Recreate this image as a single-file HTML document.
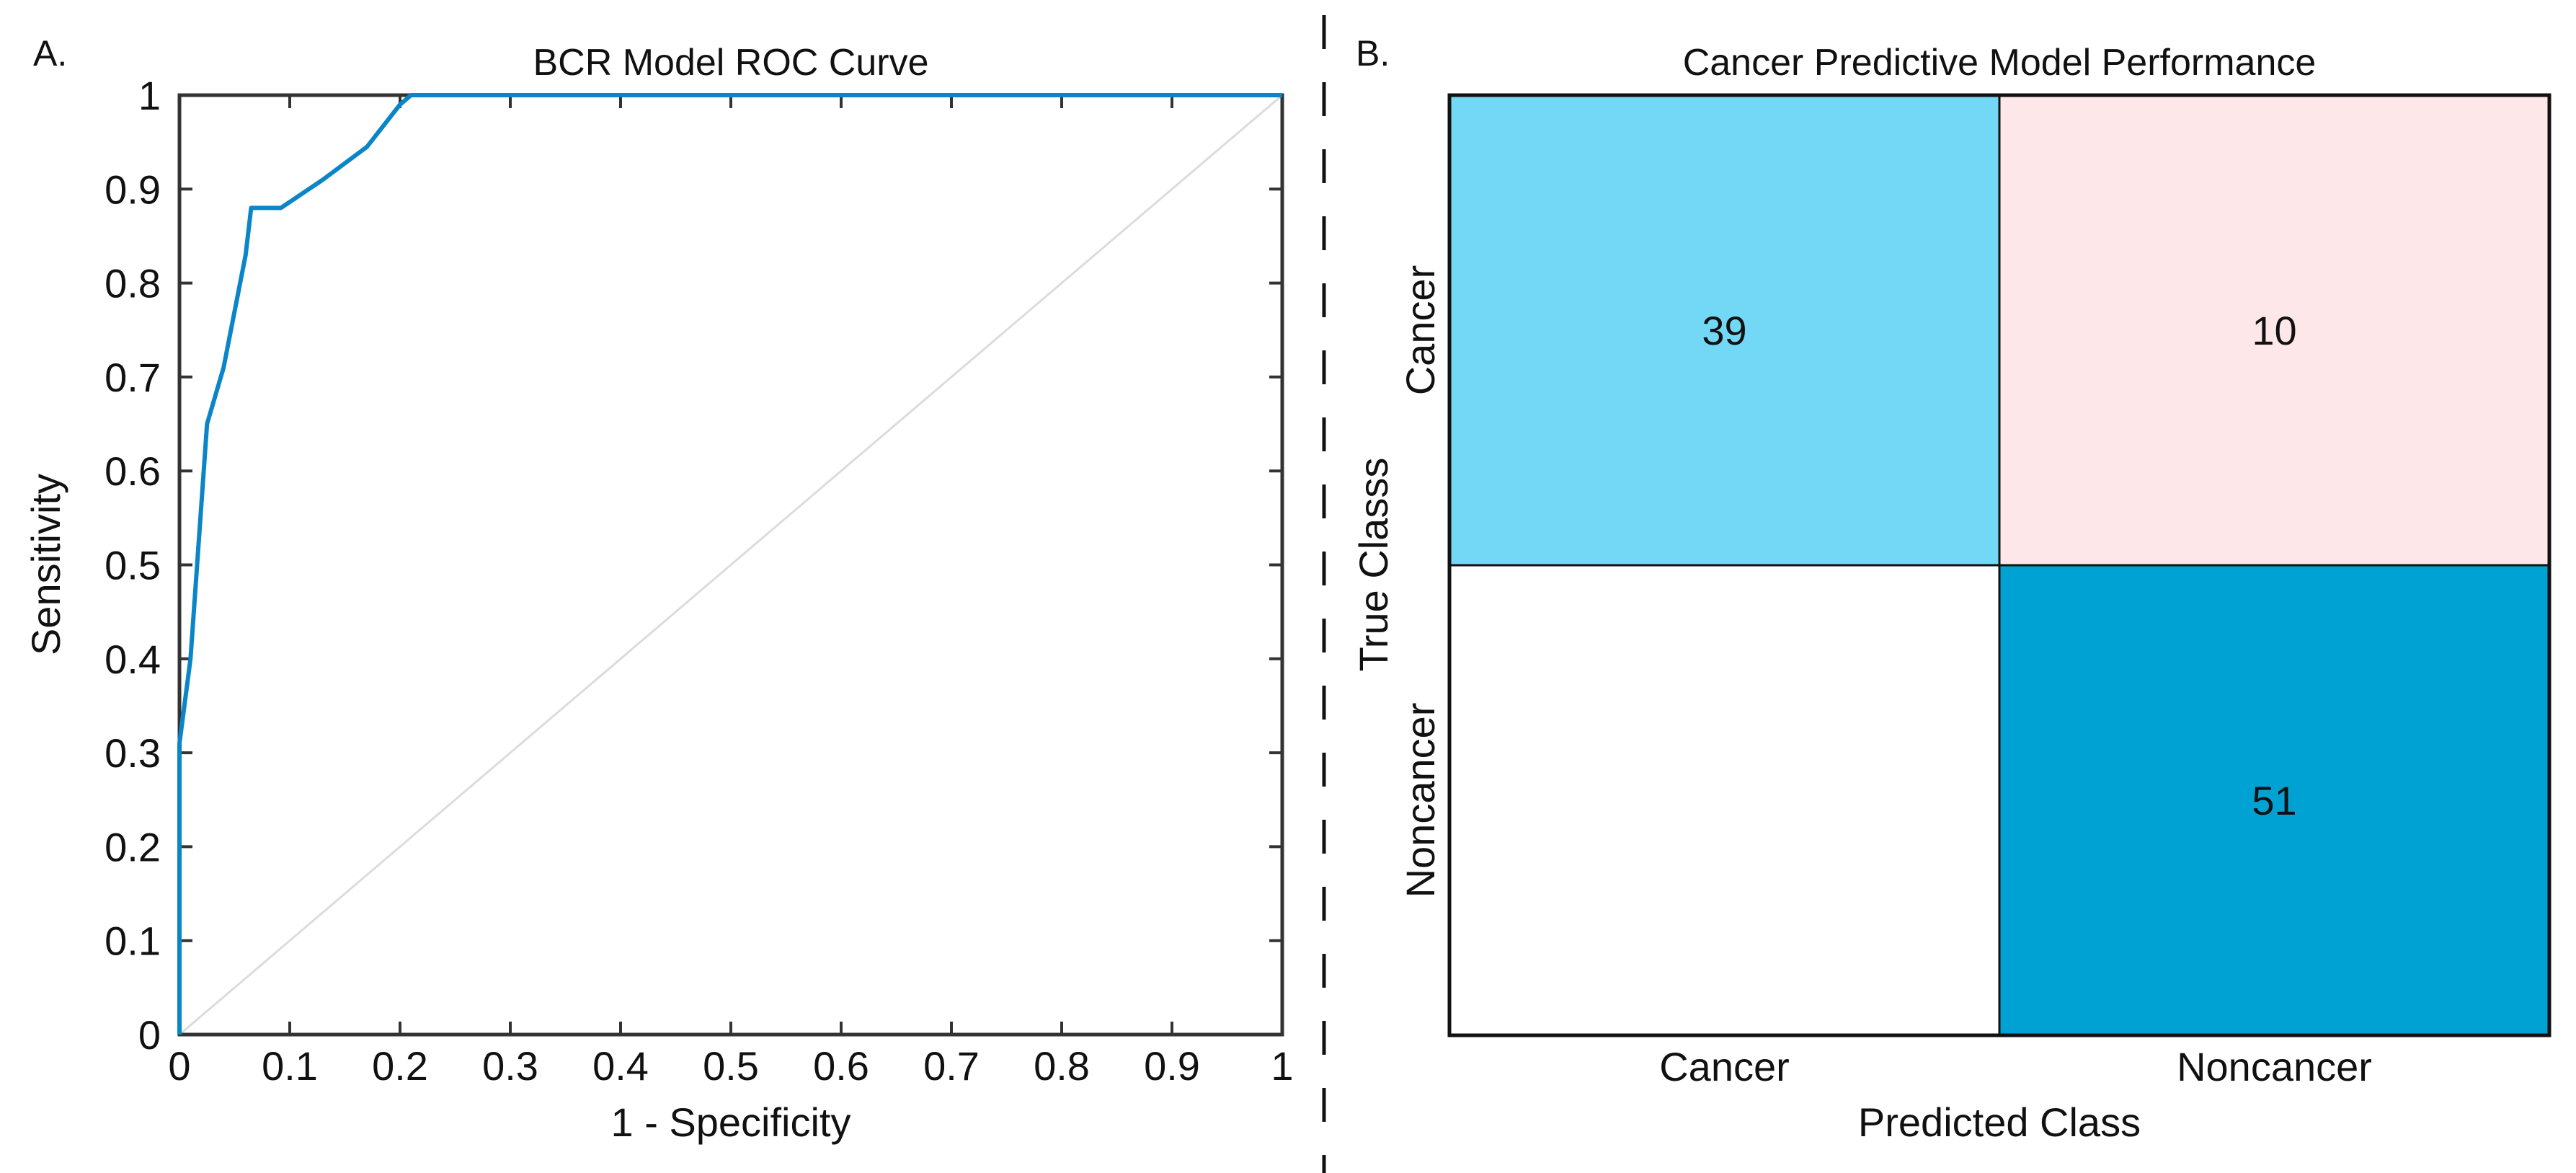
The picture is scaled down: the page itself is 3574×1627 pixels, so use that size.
<!DOCTYPE html>
<html><head><meta charset="utf-8"><style>
html,body{margin:0;padding:0;background:#fff;}
svg{display:block;font-family:"Liberation Sans",sans-serif;}
</style></head><body>
<svg id="fig" width="3574" height="1627" viewBox="0 0 3574 1627" xmlns="http://www.w3.org/2000/svg">
<rect width="3574" height="1627" fill="#fff"/>
<line x1="1837" y1="21" x2="1837" y2="1627" stroke="#111" stroke-width="5" stroke-dasharray="47 46"/>
<g id="roc"></g>
<g id="cm"></g>
</svg>
<script>
const fprValues = [0, 0, 0.01, 0.025, 0.04, 0.06, 0.065, 0.092, 0.13, 0.17, 0.2, 0.21, 1];
const tprValues = [0, 0.31, 0.40, 0.65, 0.71, 0.83, 0.88, 0.88, 0.91, 0.945, 0.99, 1, 1];
const xTickLabels = ["0","0.1","0.2","0.3","0.4","0.5","0.6","0.7","0.8","0.9","1"];
const yTickLabels = ["0","0.1","0.2","0.3","0.4","0.5","0.6","0.7","0.8","0.9","1"];
const cmPredicted = ["Cancer","Noncancer"];
const cmTrue = ["Cancer","Noncancer"];
const cmCounts = [[39,10],[0,51]];
const cmColors = [["#72d8f6","#fde7e9"],["#ffffff","#00a2d3"]];

const NS="http://www.w3.org/2000/svg";
function mk(parent,tag,attrs,text){const e=document.createElementNS(NS,tag);for(const k in attrs)e.setAttribute(k,attrs[k]);if(text!==undefined)e.textContent=text;parent.appendChild(e);return e;}

// ROC
const roc=document.getElementById('roc');
const L=249,R=1779,T=132,B=1435;
const xs=v=>L+v*(R-L), ys=v=>B-v*(B-T);
let t;
t=mk(roc,'text',{x:46,y:91,'font-size':50,fill:'#111'},'A.');

t=mk(roc,'text',{x:(L+R)/2,y:104,'font-size':52,'text-anchor':'middle',fill:'#111'},'BCR Model ROC Curve');

let d=mk(roc,'line',{x1:xs(0),y1:ys(0),x2:xs(1),y2:ys(1),stroke:'#dcdcdc','stroke-width':3});

xTickLabels.forEach((lb,i)=>{const v=parseFloat(lb);const x=xs(v);
 mk(roc,'line',{x1:x,y1:B,x2:x,y2:B-18,stroke:'#333','stroke-width':4});
 mk(roc,'line',{x1:x,y1:T,x2:x,y2:T+18,stroke:'#333','stroke-width':4});
 const e=mk(roc,'text',{x:x,y:1498,'font-size':56,'text-anchor':'middle',fill:'#111'},lb);
 });
yTickLabels.forEach((lb,i)=>{const v=parseFloat(lb);const y=ys(v);
 mk(roc,'line',{x1:L,y1:y,x2:L+18,y2:y,stroke:'#333','stroke-width':4});
 mk(roc,'line',{x1:R,y1:y,x2:R-18,y2:y,stroke:'#333','stroke-width':4});
 const e=mk(roc,'text',{x:223,y:y+20,'font-size':56,'text-anchor':'end',fill:'#111'},lb);
 });
let fr=mk(roc,'rect',{x:L,y:T,width:R-L,height:B-T,fill:'none',stroke:'#333','stroke-width':5});

let p=mk(roc,'polyline',{points:fprValues.map((v,i)=>xs(v)+','+ys(tprValues[i])).join(' '),fill:'none',stroke:'#0a86c8','stroke-width':6,'stroke-linejoin':'round'});

t=mk(roc,'text',{x:(L+R)/2,y:1576,'font-size':56,'text-anchor':'middle',fill:'#111'},'1 - Specificity');

t=mk(roc,'text',{x:0,y:0,'font-size':56,'text-anchor':'middle',fill:'#111',transform:'translate(83,783) rotate(-90)'},'Sensitivity');


// Confusion matrix
const cm=document.getElementById('cm');
const CL=2011,CR=3537,CT=132,CB=1436;
const cw=(CR-CL)/cmPredicted.length, ch=(CB-CT)/cmTrue.length;
t=mk(cm,'text',{x:1881,y:91,'font-size':50,fill:'#111'},'B.');

t=mk(cm,'text',{x:(CL+CR)/2,y:104,'font-size':52,'text-anchor':'middle',fill:'#111'},'Cancer Predictive Model Performance');

cmCounts.forEach((row,r)=>row.forEach((c,k)=>{
 const cell=mk(cm,'rect',{x:CL+k*cw,y:CT+r*ch,width:cw,height:ch,fill:cmColors[r][k],stroke:'#111','stroke-width':3});
 
 if(c>0){const e=mk(cm,'text',{x:CL+(k+0.5)*cw,y:CT+(r+0.5)*ch+20,'font-size':56,'text-anchor':'middle',fill:'#111'},String(c));
 }
}));
fr=mk(cm,'rect',{x:CL,y:CT,width:CR-CL,height:CB-CT,fill:'none',stroke:'#111','stroke-width':5});

cmPredicted.forEach((lb,k)=>{const e=mk(cm,'text',{x:CL+(k+0.5)*cw,y:1499,'font-size':56,'text-anchor':'middle',fill:'#111'},lb);
 });
cmTrue.forEach((lb,r)=>{const cy=CT+(r+0.5)*ch;const e=mk(cm,'text',{x:0,y:0,'font-size':56,'text-anchor':'middle',fill:'#111',transform:'translate(1990,'+cy+') rotate(-90)'},lb);
 });
t=mk(cm,'text',{x:(CL+CR)/2,y:1576,'font-size':56,'text-anchor':'middle',fill:'#111'},'Predicted Class');

t=mk(cm,'text',{x:0,y:0,'font-size':56,'text-anchor':'middle',fill:'#111',transform:'translate(1925,783) rotate(-90)'},'True Classs');

</script>
</body></html>
